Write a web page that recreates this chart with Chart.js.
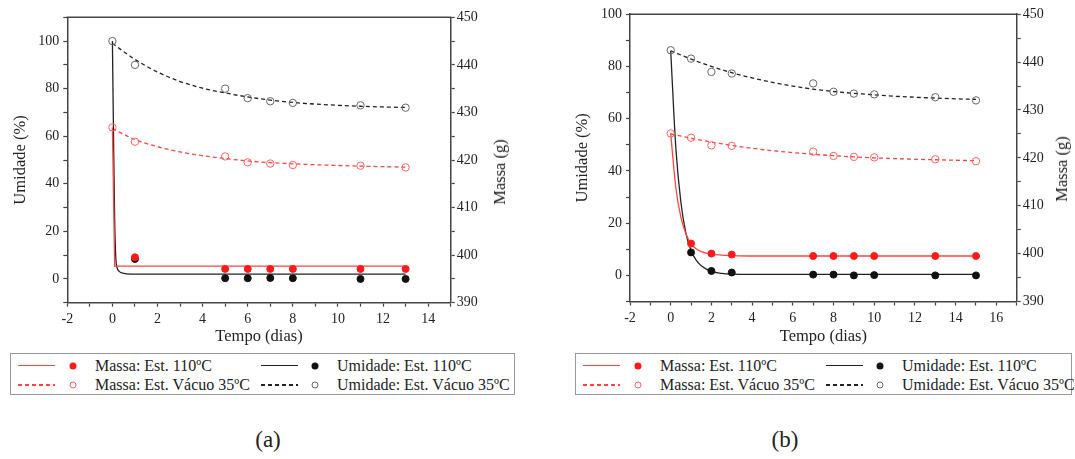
<!DOCTYPE html>
<html><head><meta charset="utf-8">
<script src="https://cdn.jsdelivr.net/npm/chart.js@4"></script>
<style>
html,body{margin:0;padding:0;background:#fff;}
body{width:1075px;height:459px;position:relative;overflow:hidden;font-family:"Liberation Serif","Times New Roman",serif;color:#222;}
canvas{position:absolute;top:0;}
.rt{position:absolute;font-size:16.5px;white-space:nowrap;transform:translate(-50%,-50%) rotate(-90deg);}
.lab{position:absolute;font-size:23px;transform:translate(-50%,-50%);}
.legend{position:absolute;border:1px solid #999;box-sizing:border-box;}
.legend .ln{position:absolute;height:0;width:37px;}
.legend .mk{position:absolute;width:7px;height:7px;border-radius:50%;box-sizing:border-box;transform:translate(-50%,-50%);}
.legend .tx{position:absolute;font-size:16px;white-space:nowrap;transform:translateY(-50%);line-height:1;}
</style>
</head><body>
<canvas id="cA" width="530" height="350" style="left:0px"></canvas>
<canvas id="cB" width="535" height="350" style="left:540px"></canvas>
<div class="rt" style="left:500px;top:172px">Massa (g)</div>
<div class="rt" style="left:1062px;top:169px">Massa (g)</div>
<div class="legend" id="legA" style="left:10px;top:353px;width:505px;height:42px"></div>
<div class="legend" id="legB" style="left:575px;top:353px;width:497px;height:42px"></div>
<div class="lab" style="left:268px;top:440px">(a)</div>
<div class="lab" style="left:785px;top:440px">(b)</div>
<script>
// ---------- DATA ----------
// Panel (a)
const daysVacA = [0, 1, 5, 6, 7, 8, 11, 13];
const umidVacA = [100, 90, 80, 76, 74.7, 74, 73, 72];                       // Umidade (%)
const massaVacA = [426.85, 423.85, 420.75, 419.5, 419.25, 418.95, 418.8, 418.45]; // Massa (g)
const days110A = [1, 5, 6, 7, 8, 11, 13];
const umid110A = [8.4, 0.3, 0.3, 0.4, 0.3, 0.0, 0.0];
const massa110A = [399.55, 397.1, 397.1, 397.1, 397.1, 397.1, 397.1];
// fitted curves (a)
const fitUmid110A_x = [0, 0.05, 0.1, 0.15, 0.2, 0.3, 0.5, 0.8, 13];
const fitUmid110A_y = [100, 60, 25, 9, 5, 3.2, 2.3, 2.0, 2.0];
const fitMassa110A_x = [0, 0.1, 13];
const fitMassa110A_y = [426.85, 397.7, 397.7];
const fitVacA_x = [0, 1, 2, 3, 4, 5, 6, 7, 8, 9, 10, 11, 12, 13];
const fitUmidVacA_y = [99, 92.3, 87.0, 83.0, 80.2, 78.2, 76.5, 75.2, 74.2, 73.5, 73.0, 72.6, 72.3, 72.1];
const fitMassaVacA_y = [426.6, 424.3, 422.8, 421.7, 420.9, 420.3, 419.8, 419.45, 419.2, 419.0, 418.85, 418.7, 418.6, 418.5];

// Panel (b)
const daysVacB = [0, 1, 2, 3, 7, 8, 9, 10, 13, 15];
const umidVacB = [86.2, 83.0, 77.9, 77.3, 73.5, 70.3, 69.6, 69.3, 68.2, 67.0];
const massaVacB = [425.1, 424.2, 422.6, 422.5, 421.3, 420.4, 420.2, 420.1, 419.7, 419.3];
const days110B = [1, 2, 3, 7, 8, 9, 10, 13, 15];
const umid110B = [8.8, 1.7, 1.1, 0.3, 0.3, 0.0, 0.1, 0.0, 0.0];
const massa110B = [402.1, 400.0, 399.8, 399.5, 399.5, 399.5, 399.5, 399.5, 399.5];
// fitted curves (b)
const fit110B_x = [0, 0.25, 0.5, 0.75, 1, 1.25, 1.5, 2, 2.5, 3, 4, 15];
const fitUmid110B_y = [86, 49, 28, 16, 9.5, 5.8, 3.7, 1.5, 0.8, 0.5, 0.4, 0.4];
const fitMassa110B_y = [425.1, 413.8, 407.6, 404.1, 402.1, 401.0, 400.4, 399.9, 399.7, 399.6, 399.5, 399.5];
const fitVacB_x = [0, 1, 2, 3, 4, 5, 6, 7, 8, 9, 10, 11, 12, 13, 14, 15];
const fitUmidVacB_y = [86, 82.8, 80.0, 77.6, 75.6, 73.9, 72.5, 71.3, 70.4, 69.7, 69.1, 68.6, 68.2, 67.9, 67.6, 67.4];
const fitMassaVacB_y = [425.0, 424.1, 423.3, 422.6, 422.0, 421.5, 421.1, 420.75, 420.45, 420.2, 420.0, 419.85, 419.7, 419.6, 419.5, 419.4];

// labels
const seriesLabels = ['Massa: Est. 110ºC', 'Umidade: Est. 110ºC', 'Massa: Est. Vácuo 35ºC', 'Umidade: Est. Vácuo 35ºC'];
const xTitle = 'Tempo (dias)';
const yLeftTitle = 'Umidade (%)';

// ---------- STYLE ----------
const FONT = '"Liberation Serif", "Times New Roman", serif';
const RED = '#ff1a1a', RED_LINE = '#ff4444', RED_OPEN = '#ff6262';
const BLK = '#111', BLK_LINE = '#222', BLK_OPEN = '#666';
const AX = '#444';

const zip = (xs, ys) => xs.map((x, i) => ({x, y: ys[i]}));

function fitLine(xs, ys, axis, color, dashed, smooth) {
  return {data: zip(xs, ys), yAxisID: axis, showLine: true, pointRadius: 0, borderColor: color,
    borderWidth: 1.3, borderDash: dashed ? [4, 3] : [], tension: 0,
    cubicInterpolationMode: smooth ? 'monotone' : 'default', order: 10};
}
function pts(xs, ys, axis, color, open, order) {
  return {data: zip(xs, ys), yAxisID: axis, showLine: false,
    pointRadius: open ? 3.7 : 3.5, borderWidth: 1, borderColor: color,
    backgroundColor: open ? 'rgba(0,0,0,0)' : color, order};
}

const framePlugin = {id: 'frame', afterDatasetsDraw(chart) {
  const {ctx, chartArea: a} = chart;
  ctx.save(); ctx.strokeStyle = AX; ctx.lineWidth = 1.5;
  ctx.beginPath(); ctx.moveTo(a.left - 0.75, a.top); ctx.lineTo(a.right + 0.75, a.top); ctx.stroke();
  ctx.restore();
}};

function makeChart(id, cfg) {
  const tickFont = {family: FONT, size: 14};
  return new Chart(document.getElementById(id), {
    type: 'scatter',
    data: {datasets: cfg.datasets},
    options: {
      responsive: false, maintainAspectRatio: false, animation: false, events: [],
      layout: {padding: {top: cfg.top, left: 0, right: 0, bottom: 0}},
      plugins: {legend: {display: false}, tooltip: {enabled: false}},
      scales: {
        x: {type: 'linear', position: 'bottom', min: cfg.xMin, max: cfg.xMax,
          ticks: {stepSize: 1, autoSkip: false, maxRotation: 0, color: '#222', font: tickFont, padding: 4,
            callback: v => (Math.round(v) % 2 === 0 ? String(v) : '')},
          grid: {drawOnChartArea: false, tickLength: 4, tickColor: AX, tickWidth: 1.2},
          border: {color: AX, width: 1.5},
          title: {display: true, text: xTitle, color: '#222', font: {family: FONT, size: 16.5}, padding: {top: 0, bottom: 3.4}},
          afterFit: s => { s.height = cfg.xH; s.paddingLeft = 0; s.paddingRight = 0; }},
        yL: {type: 'linear', position: 'left', min: cfg.yMin, max: cfg.yMax,
          ticks: {stepSize: 10, autoSkip: false, color: '#222', font: tickFont, padding: 4,
            callback: v => (v >= 0 && v <= 100 && v % 20 === 0 ? String(v) : '')},
          grid: {drawOnChartArea: false, tickLength: 4, tickColor: AX, tickWidth: 1.2},
          border: {color: AX, width: 1.5},
          title: {display: true, text: yLeftTitle, color: '#222', font: {family: FONT, size: 16.5}, padding: {top: cfg.yTitlePad, bottom: 0}},
          afterFit: s => { s.width = cfg.yLW; s.paddingTop = 0; s.paddingBottom = 0; }},
        yR: {type: 'linear', position: 'right', min: 390, max: 450,
          ticks: {stepSize: 5, autoSkip: false, color: '#222', font: tickFont, padding: 2,
            callback: v => (v % 10 === 0 ? String(v) : '')},
          grid: {drawOnChartArea: false, tickLength: 4, tickColor: AX, tickWidth: 1.2},
          border: {color: AX, width: 1.5},
          afterFit: s => { s.width = cfg.yRW; s.paddingTop = 0; s.paddingBottom = 0; }}
      }
    },
    plugins: [framePlugin]
  });
}

function drawAll() {
  Chart.defaults.font.family = FONT;
  makeChart('cA', {
    top: 17.3, xH: 47.3, yLW: 67.3, yRW: 530 - 450.7, yTitlePad: 11.2,
    xMin: -2, xMax: 15, yMin: -10, yMax: 110,
    datasets: [
      fitLine(fitMassa110A_x, fitMassa110A_y, 'yR', RED_LINE, false, false),
      fitLine(fitUmid110A_x, fitUmid110A_y, 'yL', BLK_LINE, false, true),
      fitLine(fitVacA_x, fitMassaVacA_y, 'yR', RED_LINE, true, true),
      fitLine(fitVacA_x, fitUmidVacA_y, 'yL', BLK_LINE, true, true),
      pts(days110A, massa110A, 'yR', RED, false, 0),
      pts(days110A, umid110A, 'yL', BLK, false, 1),
      pts(daysVacA, massaVacA, 'yR', RED_OPEN, true, 2),
      pts(daysVacA, umidVacA, 'yL', BLK_OPEN, true, 3)
    ]
  });
  makeChart('cB', {
    top: 14.2, xH: 48.5, yLW: 90, yRW: 535 - 476.7, yTitlePad: 33.2,
    xMin: -2, xMax: 17, yMin: -10, yMax: 100,
    datasets: [
      fitLine(fit110B_x, fitMassa110B_y, 'yR', RED_LINE, false, true),
      fitLine(fit110B_x, fitUmid110B_y, 'yL', BLK_LINE, false, true),
      fitLine(fitVacB_x, fitMassaVacB_y, 'yR', RED_LINE, true, true),
      fitLine(fitVacB_x, fitUmidVacB_y, 'yL', BLK_LINE, true, true),
      pts(days110B, massa110B, 'yR', RED, false, 0),
      pts(days110B, umid110B, 'yL', BLK, false, 1),
      pts(daysVacB, massaVacB, 'yR', RED_OPEN, true, 2),
      pts(daysVacB, umidVacB, 'yL', BLK_OPEN, true, 3)
    ]
  });
}

// ---------- LEGENDS ----------
const legendItems = [
  {label: seriesLabels[0], col: 0, row: 0, line: RED_LINE, dashed: false, mark: RED, open: false},
  {label: seriesLabels[1], col: 1, row: 0, line: BLK_LINE, dashed: false, mark: BLK, open: false},
  {label: seriesLabels[2], col: 0, row: 1, line: RED_LINE, dashed: true, mark: RED_OPEN, open: true},
  {label: seriesLabels[3], col: 1, row: 1, line: BLK_LINE, dashed: true, mark: BLK_OPEN, open: true}
];
function buildLegend(id) {
  const box = document.getElementById(id);
  const colX = [{ln: 7, mk: 62, tx: 84}, {ln: 250, mk: 304, tx: 326}];
  const rowY = [12, 31];
  legendItems.forEach(it => {
    const c = colX[it.col], y = rowY[it.row];
    const ln = document.createElement('div');
    ln.className = 'ln';
    ln.style.left = c.ln + 'px'; ln.style.top = (y - 0.6) + 'px';
    if (it.dashed) {
      ln.style.height = '1.2px';
      ln.style.background = 'repeating-linear-gradient(90deg,' + it.line + ' 0 4px,transparent 4px 7px)';
    } else {
      ln.style.borderTop = '1.2px solid ' + it.line;
    }
    box.appendChild(ln);
    const mk = document.createElement('div');
    mk.className = 'mk';
    mk.style.left = c.mk + 'px'; mk.style.top = y + 'px';
    if (it.open) mk.style.border = '1px solid ' + it.mark; else mk.style.background = it.mark;
    box.appendChild(mk);
    const tx = document.createElement('div');
    tx.className = 'tx'; tx.textContent = it.label;
    tx.style.left = c.tx + 'px'; tx.style.top = y + 'px';
    box.appendChild(tx);
  });
}
buildLegend('legA');
buildLegend('legB');

Promise.all([
  document.fonts.load('14px "Liberation Serif"'),
  document.fonts.load('16.5px "Liberation Serif"')
]).then(drawAll, drawAll);
</script>
</body></html>
